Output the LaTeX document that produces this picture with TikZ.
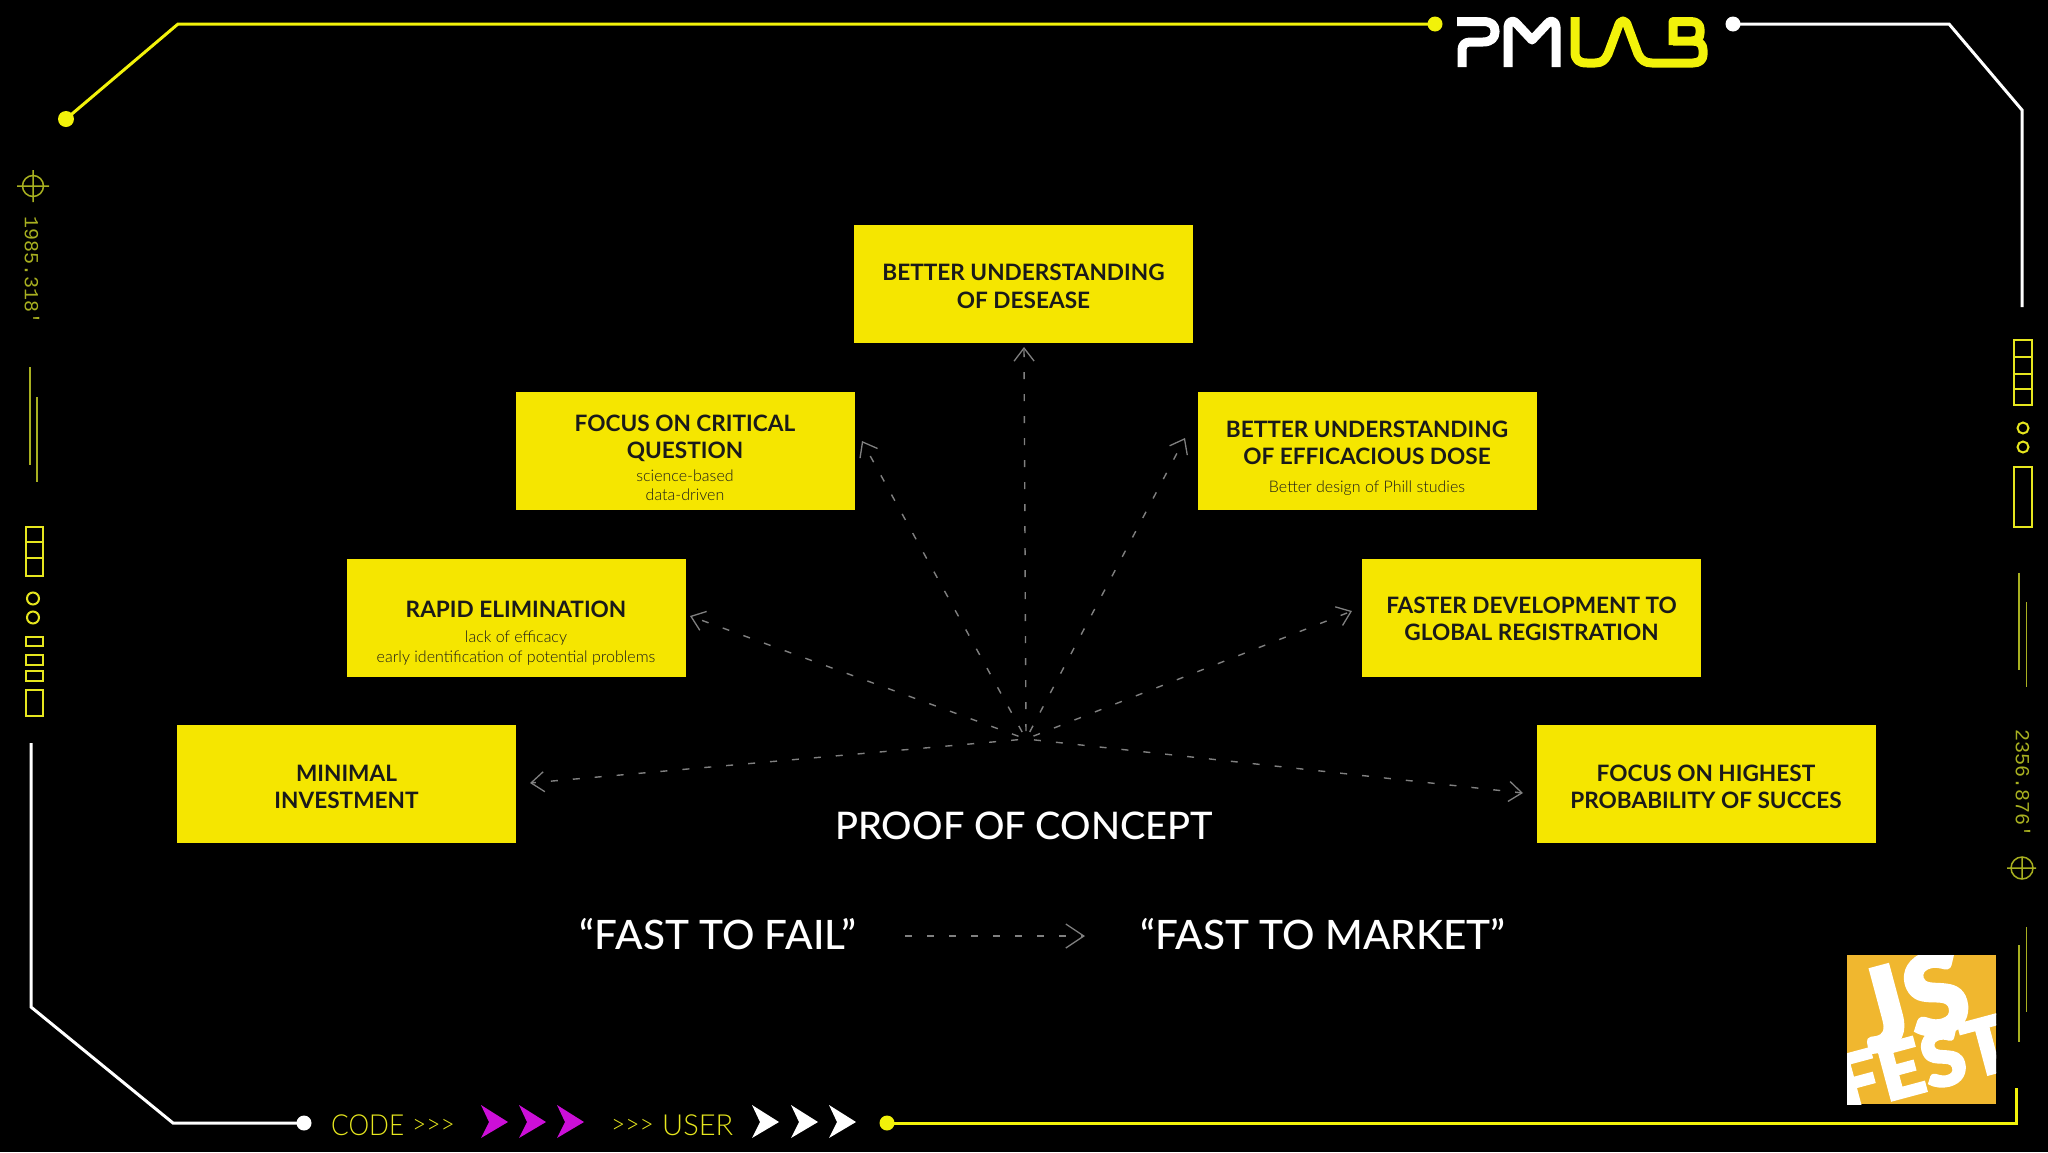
\documentclass[tikz,border=0pt]{standalone}
\usepackage{fontspec}
\usetikzlibrary{arrows.meta}
\setmainfont{Lato}
\newfontfamily\jsfont[FakeBold=2]{Lato Black}
\newfontfamily\techfont{Lato Light}
\newfontfamily\medfont{Lato Medium}
\newfontfamily\monofont{Liberation Mono}
\definecolor{bx}{HTML}{F5E600}
\definecolor{ylw}{HTML}{F2F20A}
\definecolor{dimy}{HTML}{A8B020}
\definecolor{decor}{HTML}{E6E61E}
\definecolor{mag}{HTML}{CC0FD8}
\definecolor{jsorange}{HTML}{F0B72F}
\definecolor{ink}{HTML}{1A1A1A}
\definecolor{fan}{HTML}{808080}
\newlength\boxw \setlength\boxw{339pt}
\newcommand\ttl{\fontsize{22.6}{27}\bfseries\selectfont\color{ink}}
\newcommand\subt{\techfont\fontsize{16}{18}\selectfont\color{ink}}
\newcommand\lineat[2]{\vbox to #1{\vss\hbox to \boxw{\hss\smash{#2}\hss}}}
\newcommand\boxbody[1]{\vbox to 118pt{\offinterlineskip #1\vss}}
\newcommand\chev[2]{\fill[#2] (#1,1105) -- ++(27,17) -- ++(-27,16) -- ++(8,-16) -- cycle;}
\tikzset{
 x=1pt,y=-1pt,
 ybox/.style={fill=bx,minimum width=338.5pt,minimum height=118pt,inner sep=0pt,outer sep=0pt},
 fanline/.style={draw=fan,line width=1.4pt,dash pattern=on 7pt off 15pt,shorten <=8pt,-{Straight Barb[length=13pt,width=20pt,line width=1.3pt]}},
 longline/.style={draw=fan,line width=1.4pt,dash pattern=on 7pt off 15pt,-{Straight Barb[length=18pt,width=24pt,line width=1.3pt]}},
 frameY/.style={draw=ylw,line width=3pt},
 frameW/.style={draw=white,line width=3pt},
 deco/.style={draw=decor,line width=2pt},
 cross/.style={draw=dimy,line width=1.5pt},
 thin line/.style={draw=dimy,line width=1.6pt},
 bigt/.style={text=white,inner sep=0pt,font=\medfont\fontsize{38}{40}\selectfont},
 bigq/.style={text=white,inner sep=0pt,font=\medfont\fontsize{40.5}{42}\selectfont},
 tech/.style={text=decor,inner sep=0pt,anchor=base west,font=\techfont\fontsize{29}{30}\selectfont},
 techs/.style={text=decor,inner sep=0pt,anchor=base west,font=\techfont\fontsize{24}{26}\selectfont},
 rot/.style={text=dimy,inner sep=0pt,rotate=-90,font=\monofont\fontsize{20}{22}\selectfont},
}
\begin{document}
\begin{tikzpicture}
\useasboundingbox (0,0) rectangle (2048,1152);
\fill[black] (0,0) rectangle (2048,1152);
% frame
\draw[frameY] (66,119) -- (178,24) -- (1435,24);
\fill[ylw] (66,119) circle (8);
\fill[ylw] (1435,24) circle (7.5);
\draw[frameW] (1733,24) -- (1949,24) -- (2022,110) -- (2022,307);
\fill[white] (1733,24) circle (7.5);
\draw[frameW] (31,743) -- (31,1007) -- (173,1123) -- (304,1123);
\fill[white] (304,1123) circle (7.5);
\draw[frameY] (887,1123) -- (2016,1123) -- (2016,1088);
\fill[ylw] (887,1123) circle (7.5);
% logo
\begin{scope}[line width=9pt,line join=round]
\draw[white] (1457,21.5) -- (1483,21.5) .. controls (1491,21.5) and (1495,25) .. (1495,31) -- (1495,32) .. controls (1495,38) and (1491,42) .. (1483,42) -- (1470,42) .. controls (1465,42) and (1462,45) .. (1462,50) -- (1462,67);
\draw[white] (1508,67) -- (1508,27) .. controls (1508,21) and (1514,19) .. (1517,24) -- (1532,40) -- (1547,24) .. controls (1550,19) and (1556,21) .. (1556,27) -- (1556,67);
\draw[ylw] (1575,17) -- (1575,52) .. controls (1575,60) and (1579,63) .. (1587,63) -- (1595,63) .. controls (1602,63) and (1605,60) .. (1608,54) -- (1618,27) .. controls (1620,19) and (1626,19) .. (1628,27) -- (1638,54) .. controls (1641,60) and (1645,63) .. (1652,63) -- (1693,63) .. controls (1700,63) and (1703,59) .. (1703,55) -- (1703,50) .. controls (1703,45) and (1700,41) .. (1693,41) -- (1673,41);
\draw[ylw] (1673,45) -- (1673,21.5) -- (1691,21.5) .. controls (1697,21.5) and (1700,25) .. (1700,29) -- (1700,33) .. controls (1700,38) and (1697,41) .. (1692,41);
\end{scope}
% left decor
\draw[cross] (33,186) circle (10.5) (17,186) -- (49,186) (33,170) -- (33,202);
\node[rot] (leftnum) at (32,271) {1985.318'};
\draw[thin line] (30,367) -- (30,465) (37,397) -- (37,482);
\draw[deco] (25.5,527) rectangle (42.5,575.5) (25.5,542) -- (42.5,542) (25.5,557.5) -- (42.5,557.5);
\draw[deco] (33,598.5) circle (6) (33,617.5) circle (6);
\draw[deco] (25.5,637) rectangle (42.5,646) (25.5,655) rectangle (42.5,665) (25.5,671) rectangle (42.5,681) (25.5,690) rectangle (42.5,715.5);
% right decor
\draw[deco] (2014,340) rectangle (2031.5,405) (2014,357) -- (2031.5,357) (2014,373.5) -- (2031.5,373.5) (2014,389) -- (2031.5,389);
\draw[deco] (2023,428) circle (5.5) (2023,447) circle (5.5);
\draw[deco] (2014,467) rectangle (2031.5,526.5);
\draw[thin line] (2019,572.5) -- (2019,670) (2026.5,602) -- (2026.5,687);
\node[rot] (rightnum) at (2023,783) {2356.876'};
\draw[cross] (2022,868) circle (11) (2007,868) -- (2036,868) (2022,857) -- (2022,879);
\draw[thin line] (2019,945) -- (2019,1042) (2026.5,927) -- (2026.5,1012);
% bottom strip
\node[tech] (code) at (331,1135) {\scalebox{.9}[1]{CODE}};
\node[techs] (chevA) at (412,1133) {\scalebox{1.02}[1.1]{>{}>{}>}};
\chev{481}{mag}\chev{519}{mag}\chev{557}{mag}
\node[techs] (chevB) at (611,1133) {\scalebox{1.02}[1.1]{>{}>{}>}};
\node[tech] (user) at (662,1135) {USER};
\chev{752}{white}\chev{791}{white}\chev{829}{white}
% JS Fest
\begin{scope}
\clip (1847,955) rectangle (1996,1104);
\fill[jsorange] (1847,955) rectangle (1996,1104);
\node[text=white,inner sep=0pt,rotate=15,font=\jsfont\fontsize{112}{112}\selectfont] (js) at (1912,1000) {JS};
\node[text=white,inner sep=0pt,rotate=15,font=\jsfont\fontsize{78}{78}\selectfont] (fest) at (1923,1063) {FEST};
\end{scope}
% boxes
\node[ybox] (top) at (1023.5,284) {\boxbody{\lineat{55.5pt}{\ttl BETTER UNDERSTANDING}\lineat{27.5pt}{\ttl OF DESEASE}}};
\node[ybox] (crit) at (685,450.5) {\boxbody{\lineat{40pt}{\ttl FOCUS ON CRITICAL}\lineat{26.5pt}{\ttl QUESTION}\lineat{23.5pt}{\subt science-based}\lineat{18.5pt}{\subt data-driven}}};
\node[ybox] (dose) at (1367,450.5) {\boxbody{\lineat{45.5pt}{\ttl BETTER UNDERSTANDING}\lineat{27pt}{\ttl OF EFFICACIOUS DOSE}\lineat{28.5pt}{\subt Better design of Phill studies}}};
\node[ybox] (rapid) at (516,617.5) {\boxbody{\lineat{58.5pt}{\ttl RAPID ELIMINATION}\lineat{25.5pt}{\subt lack of efficacy}\lineat{19.5pt}{\subt early identification of potential problems}}};
\node[ybox] (faster) at (1531.5,617.5) {\boxbody{\lineat{54.5pt}{\ttl FASTER DEVELOPMENT TO}\lineat{27.5pt}{\ttl GLOBAL REGISTRATION}}};
\node[ybox] (minimal) at (346.5,784) {\boxbody{\lineat{56pt}{\ttl MINIMAL}\lineat{27pt}{\ttl INVESTMENT}}};
\node[ybox] (high) at (1706,784) {\boxbody{\lineat{56pt}{\ttl FOCUS ON HIGHEST}\lineat{27pt}{\ttl PROBABILITY OF SUCCES}}};
% fan
\coordinate (hub) at (1026,739);
\coordinate (tTop) at (1024,347);
\coordinate (tCrit) at (862,441);
\coordinate (tDose) at (1185,438);
\coordinate (tRapid) at (690,616);
\coordinate (tFaster) at (1352,611);
\coordinate (tMin) at (530,783);
\coordinate (tHigh) at (1523,793);
\foreach \t in {tTop,tCrit,tDose,tRapid,tFaster,tMin,tHigh}{\draw[fanline] (hub) -- (\t);}
% titles
\node[bigt] (poc) at (1024,826) {PROOF OF CONCEPT};
\node[bigq] (fail) at (718,934) {“FAST TO FAIL”};
\node[bigq] (market) at (1323,934) {“FAST TO MARKET”};
\coordinate (failend) at (905,936);
\coordinate (mktarrow) at (1085,936);
\draw[longline] (failend) -- (mktarrow);
\end{tikzpicture}
\end{document}
